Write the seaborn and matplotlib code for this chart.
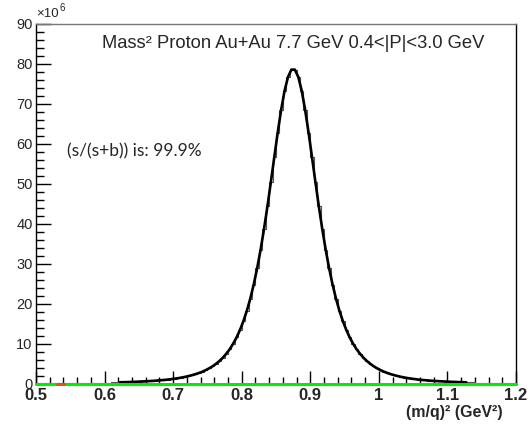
import numpy as np
import pandas as pd
import matplotlib
matplotlib.use("Agg")
import matplotlib.pyplot as plt
from matplotlib.ticker import MultipleLocator, FixedLocator
import seaborn as sns

# ---- data (counts in units of 10^6, 0.005 GeV^2 bins from 0.5 to 1.2) ----
bin_edges = np.round(np.linspace(0.5, 1.2, 141), 4)
counts_left = [0.069, 0.072, 0.076, 0.08, 0.085, 0.09, 0.095, 0.10, 0.106, 0.113,
               0.12, 0.127, 0.135, 0.14, 0.15, 0.16, 0.17, 0.19, 0.20, 0.21,
               0.23, 0.24, 0.26, 0.28, 0.30, 0.33, 0.35, 0.38, 0.41, 0.45,
               0.49, 0.53, 0.57, 0.63, 0.68, 0.75, 0.82, 0.90, 0.99, 1.10,
               1.21, 1.34, 1.49, 1.66, 1.86, 2.08, 2.33, 2.62, 2.95, 3.34,
               3.79, 4.31, 4.92, 5.63, 6.46, 7.44, 8.58, 9.93, 11.52, 13.40,
               15.60, 18.19, 21.22, 24.74, 28.79, 33.41, 38.59, 44.27, 50.34, 56.59,
               62.74, 68.41, 73.18, 76.64, 78.47]
counts_right = [78.47, 76.64, 73.18, 68.41, 62.74, 56.59, 50.34, 44.27, 38.59, 33.41,
                28.79, 24.74, 21.22, 18.19, 15.60, 13.40, 11.52, 9.93, 8.58, 7.44,
                6.46, 5.63, 4.92, 4.31, 3.79, 3.34, 2.95, 2.62, 2.33, 2.08,
                1.86, 1.66, 1.49, 1.34, 1.21, 1.10, 0.99, 0.90, 0.82, 0.75,
                0.68, 0.63, 0.57, 0.53, 0.49, 0.45, 0.41, 0.38, 0.35, 0.33,
                0.30, 0.28, 0.26, 0.24, 0.23, 0.21, 0.20, 0.19, 0.17, 0.16,
                0.15, 0.14, 0.135, 0.127, 0.12]
counts = counts_left + counts_right
fit_range = [0.62, 1.13]
background_x = [0.5, 1.2]
background_y = [0.0, 0.0]
red_seg_x = [0.530, 0.541]
red_seg_y = [0.0, 0.0]

x_ticks = [0.5, 0.6, 0.7, 0.8, 0.9, 1.0, 1.1, 1.2]
x_ticklabels = ["0.5", "0.6", "0.7", "0.8", "0.9", "1", "1.1", "1.2"]
y_ticks = [0, 10, 20, 30, 40, 50, 60, 70, 80, 90]
y_ticklabels = [str(v) for v in y_ticks]

title_text = "Mass² Proton Au+Au 7.7 GeV 0.4<|P|<3.0 GeV"
purity_text = "(s/(s+b)) is: 99.9%"
xlabel_text = "(m/q)² (GeV²)"
exponent_base = "×10"
exponent_power = "6"

centers = (bin_edges[:-1] + bin_edges[1:]) / 2
df = pd.DataFrame({"m2": centers, "count": counts})
fit_df = df[(df.m2 >= fit_range[0]) & (df.m2 <= fit_range[1])]

# ---- figure ----
sns.set_style("white")
plt.rcParams["font.family"] = ["Liberation Sans", "DejaVu Sans"]

fig = plt.figure(figsize=(5.28, 4.29), dpi=100)
ax = fig.add_axes([36 / 528, 1 - 383.5 / 429, (516 - 36) / 528, (383.5 - 23.5) / 429])

sns.histplot(data=df, x="m2", weights="count", binwidth=0.005, binrange=(0.5, 1.2),
             element="step", fill=False, color="#555555", linewidth=0.8, ax=ax)
sns.lineplot(data=fit_df, x="m2", y="count", color="#dd2200", linewidth=1.0, ax=ax)
sns.lineplot(data=fit_df, x="m2", y="count", color="black", linewidth=1.9, ax=ax)
sns.lineplot(x=background_x, y=background_y, color="#00ee00", linewidth=2.2, ax=ax,
             zorder=6, clip_on=False)
sns.lineplot(x=red_seg_x, y=red_seg_y, color="#e05020", linewidth=2.2, ax=ax,
             zorder=7, clip_on=False)

ax.set_xlim(0.5, 1.2)
ax.set_ylim(0, 90)
ax.set_xlabel("")
ax.set_ylabel("")

ax.xaxis.set_major_locator(FixedLocator(x_ticks))
ax.set_xticklabels(x_ticklabels, fontsize=12, fontweight="bold")
ax.xaxis.set_minor_locator(MultipleLocator(0.02))
ax.yaxis.set_major_locator(FixedLocator(y_ticks))
ax.set_yticklabels(y_ticklabels, fontsize=10.5)
ax.yaxis.set_minor_locator(MultipleLocator(2))

ax.tick_params(axis="x", which="major", direction="in", length=9.5, width=1, pad=3,
               color="black", bottom=True, top=False)
ax.tick_params(axis="x", which="minor", direction="in", length=5, width=1,
               color="black", bottom=True, top=False)
ax.tick_params(axis="y", which="major", direction="in", length=11, width=1, pad=2.5,
               color="black", left=True, right=False)
ax.tick_params(axis="y", which="minor", direction="in", length=5.5, width=1,
               color="black", left=True, right=False)

for side in ["left", "bottom", "right"]:
    ax.spines[side].set_color("black")
    ax.spines[side].set_linewidth(1.0)
ax.spines["top"].set_color("#777777")
ax.spines["top"].set_linewidth(1.0)

ax.text(0.535, 0.945, title_text, transform=ax.transAxes, ha="center", va="center",
        fontsize=13.2)
ax.text(0.064, 0.645, purity_text, transform=ax.transAxes, ha="left", va="center",
        fontsize=12.5, family=["Lato", "DejaVu Sans"])
fig.text(503 / 528, 1 - 412 / 429, xlabel_text, ha="right", va="center",
         fontsize=11.5, fontweight="bold")
fig.text(36 / 528, 1 - 14 / 429, exponent_base, ha="left", va="center", fontsize=9.5)
fig.text(60 / 528, 1 - 8 / 429, exponent_power, ha="left", va="center", fontsize=7)

fig.savefig("out.png", dpi=100)
